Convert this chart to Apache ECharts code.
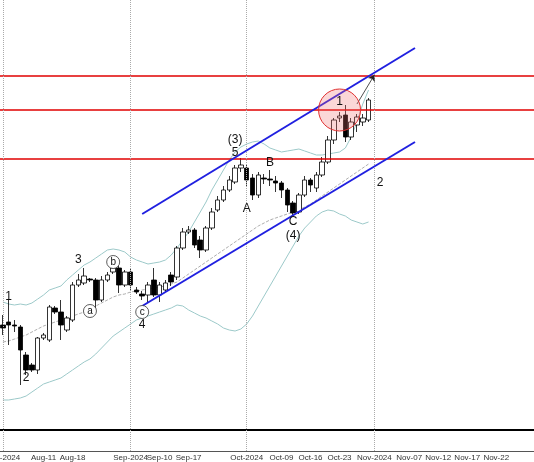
<!DOCTYPE html>
<html>
<head>
<meta charset="utf-8">
<script src="https://cdn.jsdelivr.net/npm/echarts@6/dist/echarts.min.js"></script>
<style>html,body{margin:0;padding:0;background:#fff}#c{width:534px;height:462px}</style>
</head>
<body>
<div id="c"></div>
<script>
// price scale here is arbitrary (chart has no price labels)
var SLOTS = 92;
var tickLabels = {0:'Aug-2024',7:'Aug-11',12:'Aug-18',22:'Sep-2024',27:'Sep-10',32:'Sep-17',42:'Oct-2024',48:'Oct-09',53:'Oct-16',58:'Oct-23',64:'Nov-2024',70:'Nov-07',75:'Nov-12',80:'Nov-17',85:'Nov-22'};
var monthStarts = [0, 22, 42, 64];

// [open, close, low, high]
var candles = [
  [137,134,127,147],[140,137,117,162],[137,136,130,142],[135,112,77,137],
  [107,92,87,110],[97,92,90,99],[92,124,88,125],[124,127,122,129],
  [122,155,120,157],[154,150,148,156],[150,137,122,162],[132,144,130,146],
  [142,177,140,180],[177,182,175,188],[179,186,177,194],[183,182,180,184],
  [182,162,152,184],[162,182,160,186],[182,187,180,190],[190,194,188,196],
  [194,177,169,196],[177,190,175,192],[190,177,172,193],[172,170,168,175],
  [168,166,162,171],[167,177,160,180],[182,167,165,194],[167,177,160,180],
  [172,179,170,182],[187,180,176,190],[185,214,182,216],[214,230,212,234],
  [230,232,228,236],[232,217,214,234],[222,212,204,226],[212,234,210,236],
  [234,250,232,254],[252,262,250,266],[262,272,260,276],[272,282,270,286],
  [280,294,278,297],[294,297,290,304],[294,282,276,298],[284,267,262,288],
  [267,287,264,290],[284,283,278,288],[283,282,276,292],[281,279,270,286],
  [279,272,264,281],[272,257,250,274],[259,249,247,261],[250,267,248,269],
  [267,282,265,286],[282,277,270,284],[274,287,270,290],[287,300,285,305],
  [300,322,298,326],[322,342,318,344],[344,346,340,350],[347,325,320,357],
  [325,340,322,344],[337,345,330,348],[340,344,336,348],[342,362,340,364]
];
var upperBand = [160,158,157,158,157,159,163,167,172,174,176,182,187,192,197,200,204,208,212,213,212,210,205,202,200,198,199,200,202,207,214,222,230,240,250,260,272,282,292,302,310,315,318,320,321,318,314,312,310,311,312,313,311,309,307,307,308,309,310,314,325,340,358,372];
var midBand = [120,121,123,125,127,130,133,136,138,140,142,144,146,148,150,153,156,159,162,165,167,168,170,171,172,173,174,175,176,178,180,184,188,192,196,200,204,208,212,216,220,224,228,232,236,239,242,244,246,248,250,252,255,258,262,266,270,274,278,282,286,290,294,298];
var lowerBand = [62,62,63,64,66,70,74,78,80,82,84,88,92,96,100,103,108,114,120,126,130,134,138,142,144,146,148,150,152,154,157,156,152,149,146,144,141,138,134,132,131,133,138,146,156,166,176,186,196,206,216,226,234,240,246,250,252,251,248,246,242,240,238,240];

var hLevels = [386, 352, 303];
var channelUpper = [[24, 248], [71, 414]];
var channelLower = [[24, 156], [71, 320]];
var arrowPath = [[61, 358], [64, 387]];

// [label, categoryIndex, value, circled]
var waveLabels = [
  ['1',1,165,false],['2',4,84,false],['3',13,202,false],
  ['a',15,151,true],['b',19,200,true],['c',24,150,true],['4',24,137,false],
  ['(3)',40,322,false],['5',40,309,false],['A',42,253,false],['B',46,299,false],
  ['C',50,240,false],['(4)',50,226,false],['1',58,360,false],['2',65,279,false]
];
var circleSpot = [58, 352];

var cats = [];
for (var i = 0; i < SLOTS; i++) cats.push(tickLabels[i] || '');

var chart = echarts.init(document.getElementById('c'));

var markPts = waveLabels.map(function (w) {
  return {
    coord: [w[1], w[2]],
    symbol: 'circle',
    symbolSize: w[3] ? 13 : 1,
    itemStyle: w[3] ? {color: '#fff', borderColor: '#333', borderWidth: 0.8} : {color: 'rgba(0,0,0,0)'},
    label: {show: true, formatter: w[0], position: 'inside', color: '#111', fontSize: w[3] ? 10 : 12, fontFamily: 'Arial'}
  };
});
markPts.push({
  coord: circleSpot, symbol: 'circle', symbolSize: 42,
  itemStyle: {color: 'rgba(240,110,110,0.28)', borderColor: '#e03030', borderWidth: 1},
  label: {show: false}
});

chart.setOption({
  animation: false,
  grid: {left: 0, right: 0, top: 0, bottom: 11, containLabel: false, outerBoundsMode: 'none'},
  xAxis: {
    type: 'category', data: cats, boundaryGap: true,
    axisLine: {lineStyle: {color: '#555'}},
    axisTick: {interval: function (i) { return !!tickLabels[i]; }, alignWithLabel: true, lineStyle: {color: '#777'}, length: 3},
    axisLabel: {interval: 0, fontSize: 8, color: '#333', margin: 3, fontFamily: 'Arial', hideOverlap: false},
    splitLine: {show: false}
  },
  yAxis: {type: 'value', min: 11, max: 462, show: false, splitLine: {show: false}},
  series: [
    {
      type: 'candlestick', data: candles, barWidth: 5,
      itemStyle: {color: '#fff', color0: '#000', borderColor: '#000', borderColor0: '#000', borderWidth: 0.8},
      markLine: {
        silent: true, symbol: 'none', label: {show: false},
        data: [
          {yAxis: hLevels[0], lineStyle: {color: '#e00000', width: 1.5, type: 'solid'}},
          {yAxis: hLevels[1], lineStyle: {color: '#e00000', width: 1.5, type: 'solid'}},
          {yAxis: hLevels[2], lineStyle: {color: '#e00000', width: 1.5, type: 'solid'}},
          {yAxis: 32, lineStyle: {color: '#000', width: 2, type: 'solid'}}
        ].concat(monthStarts.map(function (m) {
          return {xAxis: m, lineStyle: {color: '#aaa', width: 1, type: 'dotted'}};
        })).concat([
          [{coord: channelUpper[0]}, {coord: channelUpper[1]}],
          [{coord: channelLower[0]}, {coord: channelLower[1]}]
        ].map(function (p) { p[0].lineStyle = {color: '#2020e0', width: 2, type: 'solid'}; return p; }))
        .concat([[{coord: arrowPath[0], symbol: 'none'}, {coord: arrowPath[1], symbol: 'arrow', symbolSize: 6, lineStyle: {color: '#222', width: 0.8, type: 'solid'}}]])
      },
      markPoint: {silent: true, data: markPts}
    },
    {type: 'line', data: upperBand, symbol: 'none', lineStyle: {color: '#9cc9c9', width: 1}, z: 1},
    {type: 'line', data: lowerBand, symbol: 'none', lineStyle: {color: '#9cc9c9', width: 1}, z: 1},
    {type: 'line', data: midBand, symbol: 'none', lineStyle: {color: '#999', width: 0.8, type: 'dashed'}, z: 1}
  ]
});
</script>
</body>
</html>
